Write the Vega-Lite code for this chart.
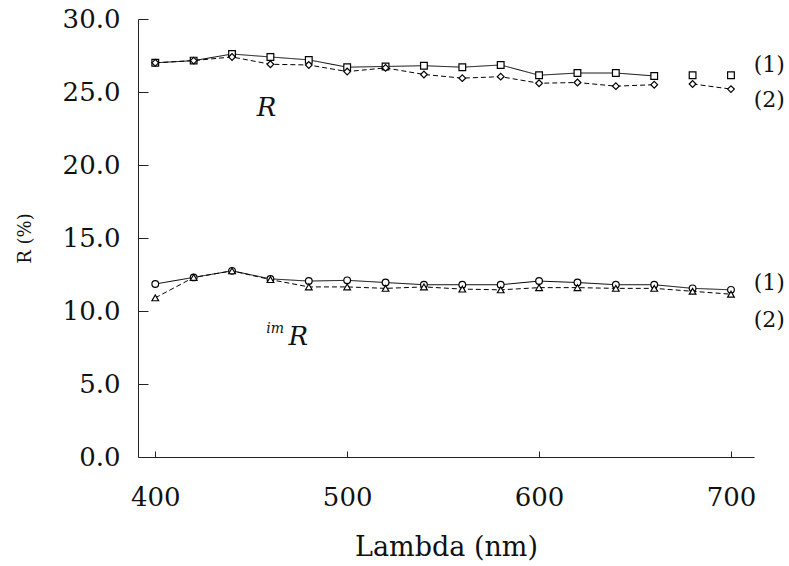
{
  "$schema": "https://vega.github.io/schema/vega-lite/v6.json",
  "autosize": "none",
  "padding": {"left": 138, "top": 19, "right": 35, "bottom": 109},
  "width": 616,
  "height": 438,
  "background": "white",
  "config": {
    "view": {"stroke": null},
    "font": "DejaVu Serif",
    "axis": {"grid": false, "domainColor": "#222", "tickColor": "#222", "labelColor": "#111", "titleColor": "#111", "labelFont": "DejaVu Serif", "titleFont": "DejaVu Serif", "titleFontWeight": "normal"}
  },
  "datasets": {
    "curves": [
      {"curve": "R1", "series": "1", "seg": "a", "lambda": 400, "value": 27.0},
      {"curve": "R1", "series": "1", "seg": "a", "lambda": 420, "value": 27.15},
      {"curve": "R1", "series": "1", "seg": "a", "lambda": 440, "value": 27.6},
      {"curve": "R1", "series": "1", "seg": "a", "lambda": 460, "value": 27.4},
      {"curve": "R1", "series": "1", "seg": "a", "lambda": 480, "value": 27.2},
      {"curve": "R1", "series": "1", "seg": "a", "lambda": 500, "value": 26.7},
      {"curve": "R1", "series": "1", "seg": "a", "lambda": 520, "value": 26.75},
      {"curve": "R1", "series": "1", "seg": "a", "lambda": 540, "value": 26.8},
      {"curve": "R1", "series": "1", "seg": "a", "lambda": 560, "value": 26.7},
      {"curve": "R1", "series": "1", "seg": "a", "lambda": 580, "value": 26.85},
      {"curve": "R1", "series": "1", "seg": "a", "lambda": 600, "value": 26.15},
      {"curve": "R1", "series": "1", "seg": "a", "lambda": 620, "value": 26.3},
      {"curve": "R1", "series": "1", "seg": "a", "lambda": 640, "value": 26.3},
      {"curve": "R1", "series": "1", "seg": "a", "lambda": 660, "value": 26.1},
      {"curve": "R1", "series": "1", "seg": "b", "lambda": 680, "value": 26.15},
      {"curve": "R1", "series": "1", "seg": "c", "lambda": 700, "value": 26.15},
      {"curve": "R2", "series": "2", "seg": "a", "lambda": 400, "value": 27.0},
      {"curve": "R2", "series": "2", "seg": "a", "lambda": 420, "value": 27.15},
      {"curve": "R2", "series": "2", "seg": "a", "lambda": 440, "value": 27.4},
      {"curve": "R2", "series": "2", "seg": "a", "lambda": 460, "value": 26.9},
      {"curve": "R2", "series": "2", "seg": "a", "lambda": 480, "value": 26.85},
      {"curve": "R2", "series": "2", "seg": "a", "lambda": 500, "value": 26.4},
      {"curve": "R2", "series": "2", "seg": "a", "lambda": 520, "value": 26.65},
      {"curve": "R2", "series": "2", "seg": "a", "lambda": 540, "value": 26.2},
      {"curve": "R2", "series": "2", "seg": "a", "lambda": 560, "value": 25.95},
      {"curve": "R2", "series": "2", "seg": "a", "lambda": 580, "value": 26.05},
      {"curve": "R2", "series": "2", "seg": "a", "lambda": 600, "value": 25.6},
      {"curve": "R2", "series": "2", "seg": "a", "lambda": 620, "value": 25.65},
      {"curve": "R2", "series": "2", "seg": "a", "lambda": 640, "value": 25.4},
      {"curve": "R2", "series": "2", "seg": "a", "lambda": 660, "value": 25.5},
      {"curve": "R2", "series": "2", "seg": "b", "lambda": 680, "value": 25.55},
      {"curve": "R2", "series": "2", "seg": "b", "lambda": 700, "value": 25.2},
      {"curve": "imR1", "series": "1", "seg": "a", "lambda": 400, "value": 11.85},
      {"curve": "imR1", "series": "1", "seg": "a", "lambda": 420, "value": 12.3},
      {"curve": "imR1", "series": "1", "seg": "a", "lambda": 440, "value": 12.75},
      {"curve": "imR1", "series": "1", "seg": "a", "lambda": 460, "value": 12.2},
      {"curve": "imR1", "series": "1", "seg": "a", "lambda": 480, "value": 12.05},
      {"curve": "imR1", "series": "1", "seg": "a", "lambda": 500, "value": 12.1},
      {"curve": "imR1", "series": "1", "seg": "a", "lambda": 520, "value": 11.95},
      {"curve": "imR1", "series": "1", "seg": "a", "lambda": 540, "value": 11.8},
      {"curve": "imR1", "series": "1", "seg": "a", "lambda": 560, "value": 11.8},
      {"curve": "imR1", "series": "1", "seg": "a", "lambda": 580, "value": 11.8},
      {"curve": "imR1", "series": "1", "seg": "a", "lambda": 600, "value": 12.05},
      {"curve": "imR1", "series": "1", "seg": "a", "lambda": 620, "value": 11.95},
      {"curve": "imR1", "series": "1", "seg": "a", "lambda": 640, "value": 11.8},
      {"curve": "imR1", "series": "1", "seg": "a", "lambda": 660, "value": 11.8},
      {"curve": "imR1", "series": "1", "seg": "a", "lambda": 680, "value": 11.55},
      {"curve": "imR1", "series": "1", "seg": "a", "lambda": 700, "value": 11.45},
      {"curve": "imR2", "series": "2", "seg": "a", "lambda": 400, "value": 10.9},
      {"curve": "imR2", "series": "2", "seg": "a", "lambda": 420, "value": 12.3},
      {"curve": "imR2", "series": "2", "seg": "a", "lambda": 440, "value": 12.75},
      {"curve": "imR2", "series": "2", "seg": "a", "lambda": 460, "value": 12.15},
      {"curve": "imR2", "series": "2", "seg": "a", "lambda": 480, "value": 11.65},
      {"curve": "imR2", "series": "2", "seg": "a", "lambda": 500, "value": 11.65},
      {"curve": "imR2", "series": "2", "seg": "a", "lambda": 520, "value": 11.55},
      {"curve": "imR2", "series": "2", "seg": "a", "lambda": 540, "value": 11.65},
      {"curve": "imR2", "series": "2", "seg": "a", "lambda": 560, "value": 11.5},
      {"curve": "imR2", "series": "2", "seg": "a", "lambda": 580, "value": 11.45},
      {"curve": "imR2", "series": "2", "seg": "a", "lambda": 600, "value": 11.6},
      {"curve": "imR2", "series": "2", "seg": "a", "lambda": 620, "value": 11.6},
      {"curve": "imR2", "series": "2", "seg": "a", "lambda": 640, "value": 11.55},
      {"curve": "imR2", "series": "2", "seg": "a", "lambda": 660, "value": 11.55},
      {"curve": "imR2", "series": "2", "seg": "a", "lambda": 680, "value": 11.35},
      {"curve": "imR2", "series": "2", "seg": "a", "lambda": 700, "value": 11.15}
    ],
    "annotations": [
      {"kind": "tag", "text": "(1)", "lambda": 720, "value": 26.85},
      {"kind": "tag", "text": "(2)", "lambda": 720, "value": 24.45},
      {"kind": "tag", "text": "(1)", "lambda": 720, "value": 11.9},
      {"kind": "tag", "text": "(2)", "lambda": 720, "value": 9.4},
      {"kind": "big", "text": "R", "lambda": 458, "value": 23.9},
      {"kind": "big", "text": "R", "lambda": 474.5, "value": 8.2},
      {"kind": "small", "text": "im", "lambda": 462.5, "value": 8.75}
    ]
  },
  "layer": [
    {
      "data": {"name": "curves"},
      "mark": {"type": "line", "color": "black", "strokeWidth": 1},
      "encoding": {
        "x": {"field": "lambda", "type": "quantitative", "scale": {"domain": [391, 712], "nice": false, "zero": false},
              "axis": {"values": [400, 500, 600, 700], "title": "Lambda (nm)", "labelFontSize": 26, "titleFontSize": 27, "tickSize": -6, "labelPadding": 33, "titlePadding": 24, "labelFlush": false}},
        "y": {"field": "value", "type": "quantitative", "scale": {"domain": [0, 30], "nice": false},
              "axis": {"values": [0, 5, 10, 15, 20, 25, 30], "format": ".1f", "title": "R (%)", "labelFontSize": 26, "titleFontSize": 18, "tickSize": -10, "labelPadding": 28, "titlePadding": 28}},
        "detail": [{"field": "curve"}, {"field": "seg"}],
        "strokeDash": {"field": "series", "type": "nominal", "scale": {"domain": ["1", "2"], "range": [[1, 0], [5, 3]]}, "legend": null}
      }
    },
    {
      "data": {"name": "curves"},
      "mark": {"type": "point", "filled": true, "fill": "white", "stroke": "black", "strokeWidth": 1.2, "size": 45, "opacity": 1},
      "encoding": {
        "x": {"field": "lambda", "type": "quantitative"},
        "y": {"field": "value", "type": "quantitative"},
        "shape": {"field": "curve", "type": "nominal", "scale": {"domain": ["R1", "R2", "imR1", "imR2"], "range": ["square", "diamond", "circle", "triangle-up"]}, "legend": null}
      }
    },
    {
      "data": {"name": "annotations"},
      "transform": [{"filter": "datum.kind === 'tag'"}],
      "mark": {"type": "text", "font": "DejaVu Serif", "fontSize": 22, "color": "#111"},
      "encoding": {
        "x": {"field": "lambda", "type": "quantitative"},
        "y": {"field": "value", "type": "quantitative"},
        "text": {"field": "text"}
      }
    },
    {
      "data": {"name": "annotations"},
      "transform": [{"filter": "datum.kind === 'big'"}],
      "mark": {"type": "text", "font": "DejaVu Serif", "fontStyle": "italic", "fontSize": 26, "color": "#111"},
      "encoding": {
        "x": {"field": "lambda", "type": "quantitative"},
        "y": {"field": "value", "type": "quantitative"},
        "text": {"field": "text"}
      }
    },
    {
      "data": {"name": "annotations"},
      "transform": [{"filter": "datum.kind === 'small'"}],
      "mark": {"type": "text", "font": "DejaVu Serif", "fontStyle": "italic", "fontSize": 14, "color": "#111"},
      "encoding": {
        "x": {"field": "lambda", "type": "quantitative"},
        "y": {"field": "value", "type": "quantitative"},
        "text": {"field": "text"}
      }
    }
  ]
}
